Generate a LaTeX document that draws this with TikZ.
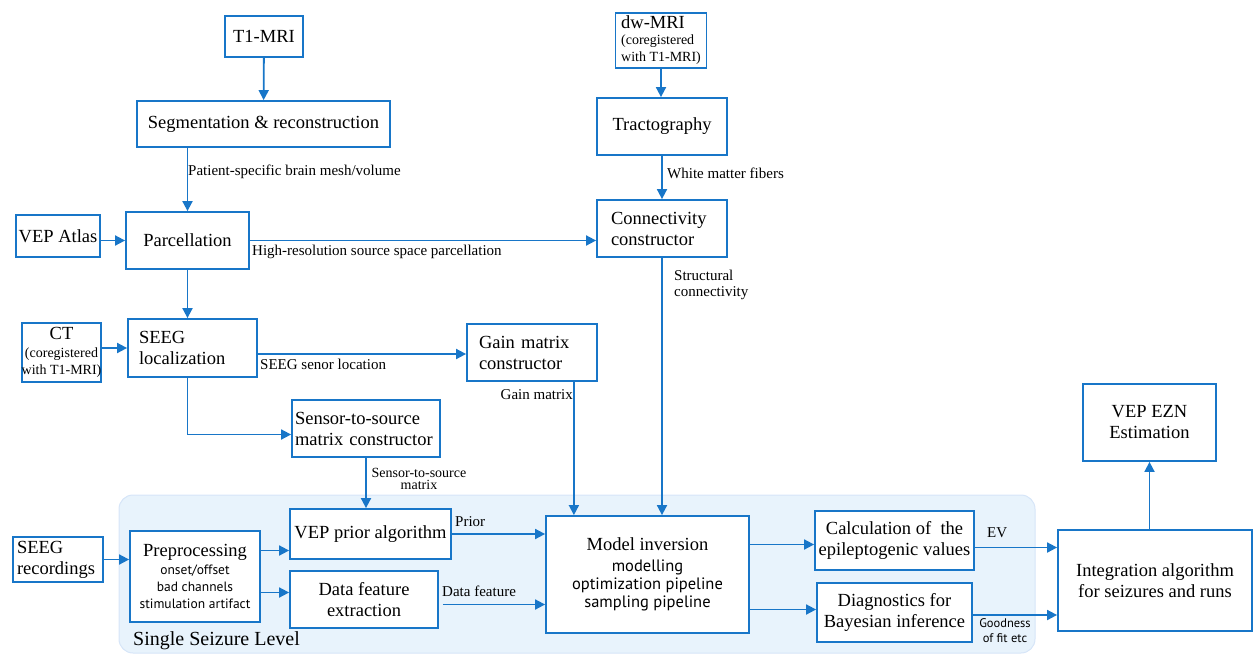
\documentclass[tikz,border=0pt]{standalone}
\usepackage{fontspec}
\setmainfont{Liberation Serif}
\newfontfamily\ptsans{PT Sans}
\usetikzlibrary{arrows.meta,positioning}

\definecolor{lineblue}{RGB}{24,118,200}
\definecolor{levelfill}{RGB}{232,243,252}
\definecolor{levelborder}{RGB}{214,229,248}

\newcommand{\subtext}[2]{{\ptsans\fontsize{#1}{#1}\selectfont #2}}
\newcommand{\notetext}[1]{{\fontsize{14}{15}\selectfont #1}}

\tikzstyle{boxed} = [rectangle, draw=lineblue, line width=1.8pt, fill=white, inner sep=0pt, align=center, font=\fontsize{18.5}{21}\selectfont]
\tikzstyle{lefttext} = [align=left]
\tikzstyle{connect} = [line width=1.8pt, draw=lineblue, -{Triangle[length=10pt,width=10pt]}]
\tikzstyle{lbl} = [inner sep=0pt, font=\fontsize{15}{16}\selectfont]

\begin{document}
\begin{tikzpicture}[x=1pt, y=-1pt]
			\useasboundingbox (0,0) rectangle (1253,654);

			% single seizure level
			\draw[draw=levelborder, fill=levelfill, line width=1pt, rounded corners=14pt] (119,495) rectangle (1035,653);
			\node (levellbl) [anchor=west, inner sep=0pt, font=\fontsize{20}{22}\selectfont] at (133,641) {Single Seizure Level};

			% anatomy branch
			\node (t1) [boxed, minimum width=78pt, minimum height=41pt] at (264,36.5) {T1-MRI};
			\node (seg) [boxed, minimum width=253pt, minimum height=46pt] at (263.5,124) {Segmentation \& reconstruction};
			\node (atlas) [boxed, minimum width=84pt, minimum height=42pt] at (58,236) {VEP Atlas};
			\node (parc) [boxed, minimum width=123pt, minimum height=57pt] at (187.5,240.5) {Parcellation};
			\node (ct) [boxed, minimum width=77pt, minimum height=59pt] at (61.5,352.5) {CT\\[-3pt]\notetext{(coregistered}\\[-4pt]\notetext{with T1-MRI)}};
			\node (seeg) [boxed, lefttext, text width=107pt, inner xsep=11pt, minimum height=58pt] at (192.5,348) {SEEG\\localization};
			\node (gain) [boxed, lefttext, text width=106pt, inner xsep=12pt, minimum height=57pt] at (532,352.5) {Gain matrix\\constructor};
			\node (sensor) [boxed, lefttext, text width=142pt, inner xsep=3pt, minimum height=57pt] at (366,428.5) {Sensor-to-source\\matrix constructor};

			% diffusion branch
			\node (dw) [boxed, lefttext, minimum width=91pt, minimum height=55pt] at (661,40.5) {dw-MRI\\[-5pt]\notetext{(coregistered}\\[-4pt]\notetext{with T1-MRI)}};
			\node (tract) [boxed, minimum width=130pt, minimum height=57pt] at (662,126.5) {Tractography};
			\node (conn) [boxed, lefttext, text width=102pt, inner xsep=14pt, minimum height=57pt] at (662,228.5) {Connectivity\\constructor};

			% seizure level
			\node (seegrec) [boxed, lefttext, text width=82pt, inner xsep=4pt, minimum height=45pt] at (58,559.5) {SEEG\\recordings};
			\node (preproc) [boxed, minimum width=130pt, minimum height=91pt] at (195,576.5) {Preprocessing\\[-3pt]\subtext{13.5}{onset/offset}\\[-4pt]\subtext{13.5}{bad channels}\\[-4pt]\subtext{13.5}{stimulation artifact}};
			\node (prior) [boxed, minimum width=161pt, minimum height=50pt] at (370.5,534) {VEP prior algorithm};
			\node (data) [boxed, minimum width=148pt, minimum height=57pt] at (364,599.5) {Data feature\\extraction};
			\node (model) [boxed, minimum width=203pt, minimum height=117pt] at (647.5,574.5) {Model inversion\\[0pt]\subtext{16.5}{modelling}\\[-3pt]\subtext{16.5}{optimization pipeline}\\[-3pt]\subtext{16.5}{sampling pipeline}};
			\node (calc) [boxed, minimum width=159pt, minimum height=59pt] at (894.5,540.5) {Calculation of ~the\\epileptogenic values};
			\node (diag) [boxed, minimum width=155pt, minimum height=59pt] at (894.5,612.5) {Diagnostics for\\Bayesian inference};
			\node (integ) [boxed, minimum width=194pt, minimum height=101pt] at (1155,580.5) {Integration algorithm\\for seizures and runs};
			\node (ezn) [boxed, minimum width=133pt, minimum height=77pt] at (1149.5,422.5) {VEP EZN\\Estimation};

			% labels on the connectors
			\node (meshlbl) [lbl, anchor=west] at (188,172) {Patient-specific brain mesh/volume};
			\node (parclbl) [lbl, anchor=west] at (252,252) {High-resolution source space parcellation};
			\node (fiberlbl) [lbl, anchor=west] at (667,173) {White matter fibers};
			\node (structlbl) [lbl, anchor=west, align=left] at (674,285) {Structural\\connectivity};
			\node (locationlbl) [lbl, anchor=west] at (260,364) {SEEG senor location};
			\node (gainlbl) [lbl, anchor=east] at (573,395) {Gain matrix};
			\node (s2slbl) [lbl, align=center, font=\fontsize{14}{12.5}\selectfont] at (419,479) {Sensor-to-source\\matrix};
			\node (priorlbl) [lbl, anchor=west] at (455,522) {Prior};
			\node (datalbl) [lbl, anchor=west] at (442,591) {Data feature};
			\node (evlbl) [lbl, anchor=west] at (987,533) {EV};
			\node (fitlbl) [lbl, align=center, font=\ptsans\fontsize{12.5}{15}\selectfont] at (1005,631) {Goodness\\of fit etc};

			% connectors
			\draw [connect] (t1) -- (seg);
			\draw [connect] (seg.south -| parc.north) -- (parc.north);
			\draw [connect] (atlas.east |- parc.west) -- (parc.west);
			\draw [connect] (parc.east) -- (parc.east -| conn.west);
			\draw [connect] (parc.south) -- (parc.south |- seeg.north);
			\draw [connect] (ct.east |- seeg.west) -- (seeg.west);
			\draw [connect] ([yshift=-6pt]seeg.east) -- ([yshift=-6pt]seeg.east -| gain.west);
			\draw [connect] ([xshift=-5pt]seeg.south) |- ([yshift=-6pt]sensor.west);
			\draw [connect] (sensor.south) -- (sensor.south |- prior.north);
			\draw [connect] ([xshift=-24pt]gain.south east) -- ([xshift=-24pt]gain.south east |- model.north);
			\draw [connect] (dw.south) -- (dw.south |- tract.north);
			\draw [connect] (tract) -- (conn);
			\draw [connect] (conn.south) -- (conn.south |- model.north);
			\draw [connect] (seegrec.east) -- (seegrec.east -| preproc.west);
			\draw [connect] ([yshift=26pt]preproc.east) -- ([yshift=26pt]preproc.east -| prior.west);
			\draw [connect] ([yshift=-16pt]preproc.east) -- ([yshift=-16pt]preproc.east -| data.west);
			\draw [connect] (prior.east) -- (prior.east -| model.west);
			\draw [connect] ([xshift=4pt,yshift=-5pt]data.east) -- ([yshift=-5pt]data.east -| model.west);
			\draw [connect] ([yshift=30pt]model.east) -- ([yshift=30pt]model.east -| calc.west);
			\draw [connect] ([yshift=-35pt]model.east) -- ([yshift=-35pt]model.east -| diag.west);
			\draw [connect] ([yshift=-7pt]calc.east) -- ([yshift=-7pt]calc.east -| integ.west);
			\draw [connect] ([yshift=-2.5pt]diag.east) -- ([yshift=-2.5pt]diag.east -| integ.west);
			\draw [connect] (ezn.south |- integ.north) -- (ezn.south);
\end{tikzpicture}
\end{document}
